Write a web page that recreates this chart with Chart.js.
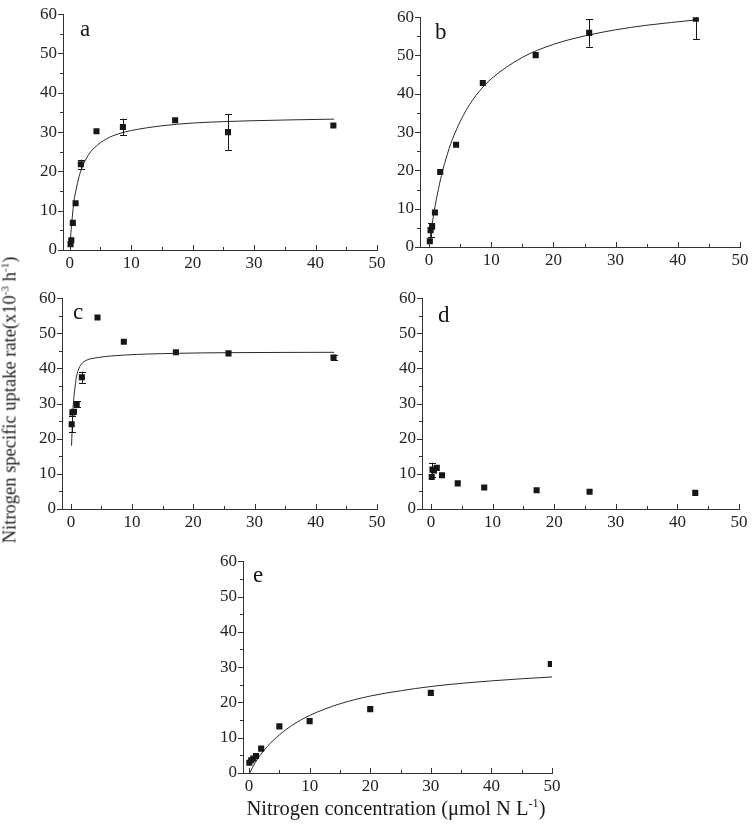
<!DOCTYPE html>
<html>
<head>
<meta charset="utf-8">
<script src="https://cdn.jsdelivr.net/npm/chart.js@4.4.1/dist/chart.umd.min.js"></script>
<style>
  body { margin: 0; background: #fff; width: 754px; height: 827px; position: relative; overflow: hidden;
         font-family: "Liberation Serif", "DejaVu Serif", serif; color: #1a1a1a; }
  canvas { position: absolute; }
  #ytitle { position: absolute; left: 10px; top: 400px; transform: translate(-50%, -50%) rotate(-90deg);
            white-space: nowrap; font-size: 18.5px; }
  #xtitle { position: absolute; left: 396px; top: 808px; transform: translate(-50%, -50%);
            white-space: nowrap; font-size: 20.5px; }
  sup { font-size: 0.6em; vertical-align: 0.6em; line-height: 0; }
</style>
</head>
<body>
<canvas id="pa"></canvas>
<canvas id="pb"></canvas>
<canvas id="pc"></canvas>
<canvas id="pd"></canvas>
<canvas id="pe"></canvas>
<div id="ytitle">Nitrogen specific uptake rate(x10<sup>-3</sup> h<sup>-1</sup>)</div>
<div id="xtitle">Nitrogen concentration (&mu;mol N L<sup>-1</sup>)</div>
<script>
// tick values
const xMajor = [0, 10, 20, 30, 40, 50];
const xMinor = [5, 15, 25, 35, 45];
const yMajor = [0, 10, 20, 30, 40, 50, 60];
const yMinor = [5, 15, 25, 35, 45, 55];

// measured points, panels a-d share the same concentrations
const concAD = [0.13, 0.25, 0.5, 0.95, 1.8, 4.35, 8.65, 17.15, 25.75, 42.9];
const rateA = [1.5, 2.5, 6.9, 11.9, 21.8, 30.2, 31.3, 33.0, 30.0, 31.7];
const errA  = [0, 0, 0, 0, 1.2, 0, 2.1, 0, 4.5, 0];
const rateB = [1.5, 4.4, 5.3, 9.0, 19.6, 26.7, 42.8, 50.1, 55.9, 59.6];
const errB  = [0, 1.9, 0, 0, 0, 0, 0, 0, 3.6, 5.4];
const rateC = [24.1, 27.5, 27.7, 29.8, 37.5, 54.5, 47.6, 44.6, 44.3, 43.1];
const errC  = [2.3, 0, 0, 0.8, 1.6, 0, 0, 0, 0, 0.8];
const rateD = [9.1, 11.2, 11.0, 11.7, 9.6, 7.3, 6.1, 5.35, 4.9, 4.6];
const errD  = [0, 2.0, 0, 0, 0, 0, 0, 0, 0, 0];
const concE = [0.05, 0.35, 0.7, 1.15, 2, 5, 10, 20, 30, 49.8];
const rateE = [2.9, 3.6, 4.1, 4.8, 6.9, 13.2, 14.7, 18.1, 22.7, 30.9];

// fitted curves
const fitAx = [0.05, 0.2, 0.4, 0.7, 1, 1.5, 2, 3, 4, 6, 8, 10, 15, 20, 30, 43];
const fitAy = [1.3, 4.5, 8.2, 12.6, 15.1, 18.6, 21.0, 24.1, 26.0, 28.3, 29.6, 30.4, 31.6, 32.3, 32.9, 33.3];
const fitBx = [0.1, 0.3, 0.6, 1, 1.5, 2, 3, 4, 6, 8, 10, 15, 20, 25, 30, 35, 43];
const fitBy = [1.3, 3.7, 7.0, 10.9, 15.0, 18.7, 24.5, 29.1, 35.8, 40.5, 43.9, 49.5, 52.9, 55.1, 56.7, 57.9, 59.3];
const fitCx = [0.11, 0.3, 0.5, 0.7, 0.9, 1.2, 1.7, 2.5, 4.4, 8.6, 17, 26, 43];
const fitCy = [18, 27, 32, 35, 37.5, 39.5, 41.2, 42.3, 43.1, 43.8, 44.3, 44.5, 44.6];
const fitEx = [0.1, 1, 2, 3, 5, 7, 10, 15, 20, 25, 30, 35, 40, 45, 50];
const fitEy = [0, 2.9, 5.4, 7.5, 10.8, 13.4, 16.3, 19.6, 21.8, 23.3, 24.5, 25.4, 26.1, 26.7, 27.2];

Chart.defaults.font.family = '"Liberation Serif", "DejaVu Serif", serif';

const ink = '#161616';

// minor/major tick marks: y outward, x inward
const tickPlugin = {
  id: 'ticks2',
  afterDraw(chart) {
    const { ctx, chartArea: a, scales } = chart;
    ctx.save();
    ctx.strokeStyle = '#333';
    ctx.lineWidth = 1;
    ctx.beginPath();
    yMajor.concat(yMinor).forEach(v => {
      const y = Math.round(scales.y.getPixelForValue(v)) + 0.5;
      const len = yMajor.includes(v) ? 5 : 3;
      ctx.moveTo(a.left, y); ctx.lineTo(a.left - len, y);
    });
    xMajor.concat(xMinor).forEach(v => {
      const x = Math.round(scales.x.getPixelForValue(v)) + 0.5;
      const len = xMajor.includes(v) ? 5 : 3;
      ctx.moveTo(x, a.bottom); ctx.lineTo(x, a.bottom - len);
    });
    ctx.stroke();
    ctx.restore();
  }
};

const errPlugin = {
  id: 'errbars',
  afterDatasetsDraw(chart) {
    const ds = chart.data.datasets[0];
    if (!ds.errors) return;
    const { ctx, chartArea: a, scales } = chart;
    ctx.save();
    ctx.beginPath();
    ctx.rect(a.left, a.top, a.right - a.left, a.bottom - a.top);
    ctx.clip();
    ctx.strokeStyle = ink;
    ctx.lineWidth = 1;
    ctx.beginPath();
    ds.data.forEach((p, i) => {
      const e = ds.errors[i];
      if (!e) return;
      const x = Math.round(scales.x.getPixelForValue(p.x)) + 0.5;
      const y1 = scales.y.getPixelForValue(p.y - e);
      const y2 = scales.y.getPixelForValue(p.y + e);
      ctx.moveTo(x, y1); ctx.lineTo(x, y2);
      ctx.moveTo(x - 3.5, Math.round(y1) + 0.5); ctx.lineTo(x + 3.5, Math.round(y1) + 0.5);
      ctx.moveTo(x - 3.5, Math.round(y2) + 0.5); ctx.lineTo(x + 3.5, Math.round(y2) + 0.5);
    });
    ctx.stroke();
    ctx.restore();
  }
};

const letterPlugin = {
  id: 'letter',
  afterDraw(chart) {
    const o = chart.options.plugins.letter;
    const { ctx, chartArea: a } = chart;
    ctx.save();
    ctx.font = '23px "Liberation Serif", serif';
    ctx.fillStyle = ink;
    ctx.textBaseline = 'alphabetic';
    ctx.fillText(o.text, a.left + o.dx, a.top + o.dy);
    ctx.restore();
  }
};

function makePanel(p) {
  const cv = document.getElementById(p.id);
  const padL = 60, padT = 14, padR = 14, padB = 34;
  const w = p.area.r - p.area.l, h = p.area.b - p.area.t;
  cv.width = w + padL + padR;
  cv.height = h + padT + padB;
  cv.style.left = (p.area.l - padL) + 'px';
  cv.style.top = (p.area.t - padT) + 'px';

  const datasets = [{
    data: p.conc.map((x, i) => ({ x: x, y: p.rate[i] })),
    errors: p.err,
    pointStyle: 'rect',
    pointRadius: 4.3,
    pointHoverRadius: 4.3,
    backgroundColor: ink,
    borderColor: ink,
    borderWidth: 0,
    clip: p.clip
  }];
  if (p.fitX) {
    datasets.push({
      data: p.fitX.map((x, i) => ({ x: x, y: p.fitY[i] })),
      showLine: true,
      pointRadius: 0,
      borderColor: '#2a2a2a',
      borderWidth: 1,
      cubicInterpolationMode: 'monotone',
      fill: false
    });
  }

  const tickFont = { size: 17 };
  new Chart(cv, {
    type: 'scatter',
    data: { datasets: datasets },
    options: {
      responsive: false,
      animation: false,
      devicePixelRatio: 1,
      layout: { padding: { left: 0, top: padT, right: padR, bottom: 0 } },
      plugins: {
        legend: { display: false },
        tooltip: { enabled: false },
        letter: { text: p.letter, dx: p.lx, dy: p.ly }
      },
      scales: {
        x: {
          type: 'linear', min: p.xMin, max: 50,
          afterBuildTicks: s => { s.ticks = xMajor.map(v => ({ value: v })); },
          afterFit: s => { s.height = padB; },
          grid: { display: false, drawTicks: false },
          border: { display: true, color: '#333', width: 1 },
          ticks: { padding: 3, color: '#222', font: tickFont, maxRotation: 0, autoSkip: false }
        },
        y: {
          type: 'linear', min: 0, max: 60,
          afterBuildTicks: s => { s.ticks = yMajor.map(v => ({ value: v })); },
          afterFit: s => { s.width = padL; },
          grid: { display: false, drawTicks: false },
          border: { display: true, color: '#333', width: 1 },
          ticks: { padding: 6, color: '#222', font: tickFont, autoSkip: false }
        }
      }
    },
    plugins: [tickPlugin, errPlugin, letterPlugin]
  });
}

makePanel({ id: 'pa', area: { l: 63, r: 377, t: 12, b: 250 }, xMin: -1.1,
  conc: concAD, rate: rateA, err: errA, fitX: fitAx, fitY: fitAy, letter: 'a', lx: 17, ly: 22 });
makePanel({ id: 'pb', area: { l: 420, r: 740, t: 15, b: 247 }, xMin: -1.45,
  conc: concAD, rate: rateB, err: errB, fitX: fitBx, fitY: fitBy, letter: 'b', lx: 15, ly: 22 });
makePanel({ id: 'pc', area: { l: 62, r: 377, t: 296, b: 509 }, xMin: -1.45,
  conc: concAD, rate: rateC, err: errC, fitX: fitCx, fitY: fitCy, letter: 'c', lx: 11, ly: 21 });
makePanel({ id: 'pd', area: { l: 422, r: 739, t: 296, b: 509 }, xMin: -1.45,
  conc: concAD, rate: rateD, err: errD, letter: 'd', lx: 16, ly: 24 });
makePanel({ id: 'pe', area: { l: 243, r: 552, t: 559, b: 773 }, xMin: -1.0,
  conc: concE, rate: rateE, err: null, fitX: fitEx, fitY: fitEy, letter: 'e', lx: 10, ly: 21, clip: 0 });
</script>
</body>
</html>
